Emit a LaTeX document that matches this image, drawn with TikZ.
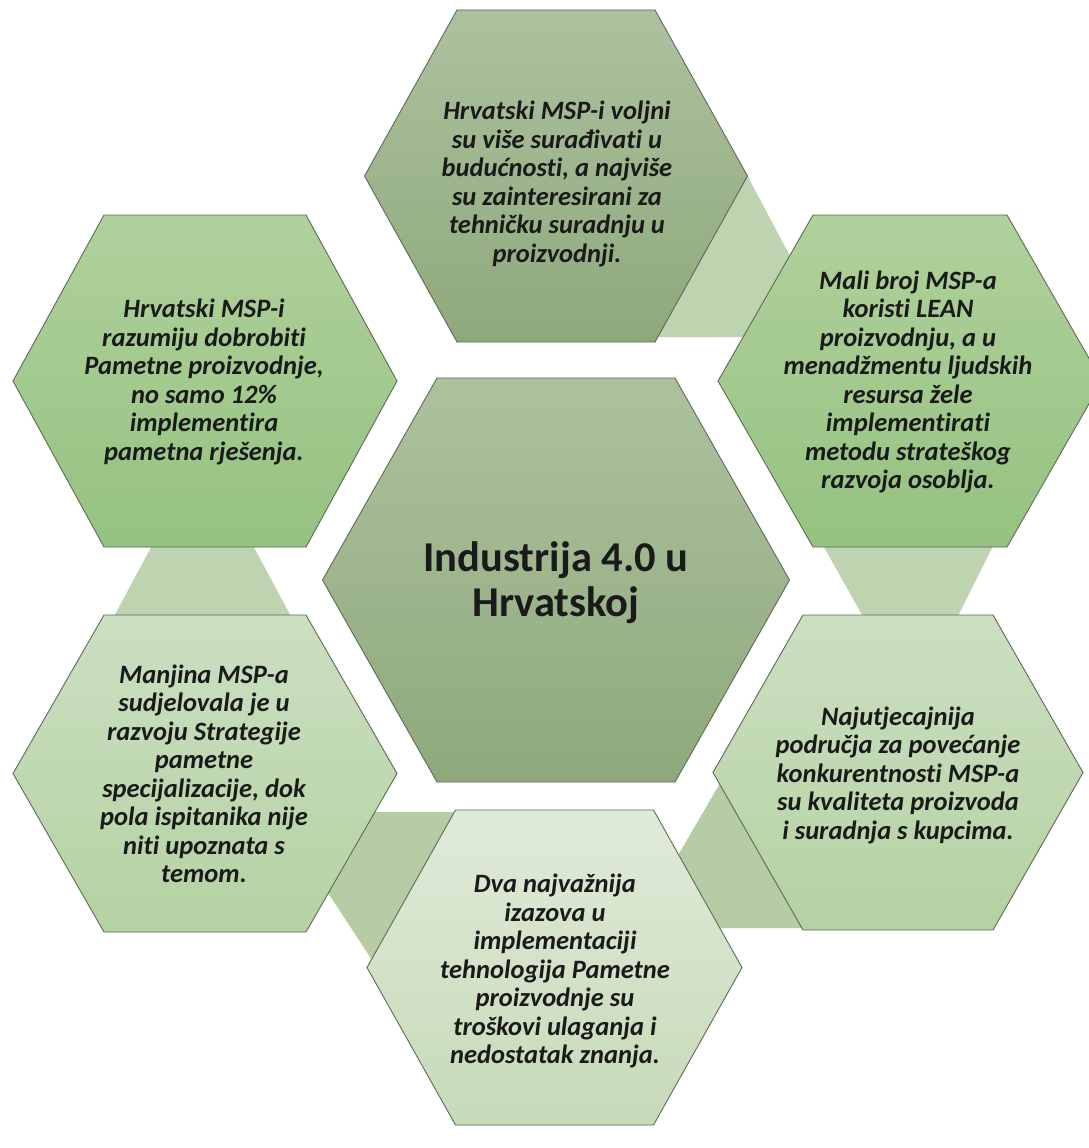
\documentclass[tikz,border=0pt]{standalone}
\usepackage{fontspec}
\setmainfont{Carlito}[Ligatures={NoCommon}]
\definecolor{hexedge}{HTML}{5D6A55}
\definecolor{txtcol}{HTML}{1A1A1A}
\definecolor{darkT}{HTML}{ADC19F}
\definecolor{darkB}{HTML}{8EA97B}
\definecolor{midT}{HTML}{B0D19C}
\definecolor{midB}{HTML}{95C281}
\definecolor{lightT}{HTML}{CCDFC2}
\definecolor{lightB}{HTML}{B4D2A2}
\definecolor{paleT}{HTML}{E0EAD9}
\definecolor{paleB}{HTML}{C6DAB8}
\definecolor{linkA}{HTML}{BED3AF}
\definecolor{linkB}{HTML}{B6CCA5}
\tikzset{
  hexline/.style={draw=hexedge, line width=0.9pt, line join=miter},
  linkshape/.style={fill=#1, draw=none},
  txt/.style={align=center, text=txtcol, inner sep=0pt,
    font=\fontsize{26.5}{28.5}\selectfont\bfseries\itshape},
  hexagon/.style n args={5}{insert path={({#1-#3},{#2}) -- ({#1-#4},{#2-#5}) -- ({#1+#4},{#2-#5}) -- ({#1+#3},{#2}) -- ({#1+#4},{#2+#5}) -- ({#1-#4},{#2+#5}) -- cycle}},
}
\begin{document}
\begin{tikzpicture}[x=1pt,y=-1pt]
\useasboundingbox (0,0) rectangle (1089,1148);
\fill[white] (0,0) rectangle (1089,1148);
\clip (0,0) rectangle (1089,1148);
% connecting shapes (behind)
\fill[linkshape=linkA] (747,175) -- (800,275) -- (770,337) -- (640,337) -- cycle;
\fill[linkshape=linkA] (820,540) -- (996,540) -- (955,622) -- (866,622) -- cycle;
\fill[linkshape=linkB] (652,900) -- (737,754) -- (840,800) -- (840,928) -- (700,928) -- cycle;
\fill[linkshape=linkB] (360,812) -- (480,812) -- (480,960) -- (372,960) -- (313,870) -- cycle;
\fill[linkshape=linkA] (155,540) -- (250,540) -- (294,622) -- (111,622) -- cycle;
% hexagons
\path[hexline, top color=darkT, bottom color=darkB, hexagon={556}{176}{191.5}{99}{166}];
\path[hexline, top color=midT, bottom color=midB, hexagon={205}{381}{192}{101}{166}];
\path[hexline, top color=midT, bottom color=midB, hexagon={910}{381}{192}{97}{166}];
\path[hexline, top color=lightT, bottom color=lightB, hexagon={205}{773.5}{192}{101}{158.5}];
\path[hexline, top color=lightT, bottom color=lightB, hexagon={898}{772.5}{185}{95}{157.5}];
\path[hexline, top color=paleT, bottom color=paleB, hexagon={554.5}{967.5}{187.5}{99}{157.5}];
\path[hexline, top color=darkT, bottom color=darkB, hexagon={556}{580}{233.5}{119}{202}];
% texts
\node[txt] (nT) at (557,184) {Hrvatski MSP-i voljni\\su više surađivati u\\budućnosti, a najviše\\su zainteresirani za\\tehničku suradnju u\\proizvodnji.};
\node[txt] (nLU) at (204,382) {Hrvatski MSP-i\\razumiju dobrobiti\\Pametne proizvodnje,\\no samo 12\%\\implementira\\pametna rješenja.};
\node[txt] (nRU) at (908,382) {Mali broj MSP-a\\koristi LEAN\\proizvodnju, a u\\menadžmentu ljudskih\\resursa žele\\implementirati\\metodu strateškog\\razvoja osoblja.};
\node[txt] (nLL) at (204,774) {Manjina MSP-a\\sudjelovala je u\\razvoju Strategije\\pametne\\specijalizacije, dok\\pola ispitanika nije\\niti upoznata s\\temom.};
\node[txt] (nRL) at (898,775) {Najutjecajnija\\područja za povećanje\\konkurentnosti MSP-a\\su kvaliteta proizvoda\\i suradnja s kupcima.};
\node[txt] (nB) at (555,971) {Dva najvažnija\\izazova u\\implementaciji\\tehnologija Pametne\\proizvodnje su\\troškovi ulaganja i\\nedostatak znanja.};
\node[align=center, text=txtcol, inner sep=0pt, font=\fontsize{42.5}{45}\selectfont\bfseries] (nC) at (556,583) {Industrija 4.0 u\\Hrvatskoj};
\end{tikzpicture}
\end{document}
